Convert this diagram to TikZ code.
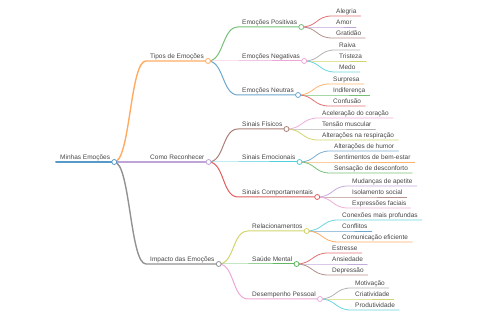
\documentclass[tikz,border=0pt]{standalone}
\usepackage{fontspec}
\setmainfont{Liberation Sans}
\definecolor{cblue}{HTML}{1F77B4}
\definecolor{corange}{HTML}{FF7F0E}
\definecolor{cgreen}{HTML}{2CA02C}
\definecolor{cred}{HTML}{D62728}
\definecolor{cpurple}{HTML}{9467BD}
\definecolor{cbrown}{HTML}{8C564B}
\definecolor{cpink}{HTML}{E377C2}
\definecolor{cgray}{HTML}{7F7F7F}
\definecolor{colive}{HTML}{BCBD22}
\definecolor{ccyan}{HTML}{17BECF}
\definecolor{txtgray}{RGB}{70,70,70}

\begin{document}
\begin{tikzpicture}[x=1pt, y=-1pt,
  topic/.style={anchor=south west, inner xsep=4pt, inner ysep=0.6pt, text height=5pt,
    text depth=1.6pt, text=txtgray, font=\fontsize{6.5}{7.5}\selectfont},
  mmlink/.style={line width=0.8pt, line cap=round},
  mmdot/.style={circle, draw, fill=white, line width=0.8pt, inner sep=0pt, minimum size=5pt}]
  \useasboundingbox (0,0) rectangle (480,320);
  % Root and first level
  \node[topic] (minhas) at (56,162) {Minhas Emoções};
  \node[topic] (tipos) at (146,61) {Tipos de Emoções};
  \node[topic] (como) at (146,162) {Como Reconhecer};
  \node[topic] (impacto) at (146,264) {Impacto das Emoções};
  % Tipos de Emocoes
  \node[topic] (positivas) at (238,27) {Emoções Positivas};
  \node[topic] (negativas) at (238,61) {Emoções Negativas};
  \node[topic] (neutras) at (238,95) {Emoções Neutras};
  \node[topic] (alegria) at (332,16) {Alegria};
  \node[topic] (amor) at (332,27) {Amor};
  \node[topic] (gratidao) at (332,38) {Gratidão};
  \node[topic] (raiva) at (335,50) {Raiva};
  \node[topic] (tristeza) at (335,61) {Tristeza};
  \node[topic] (medo) at (335,72) {Medo};
  \node[topic] (surpresa) at (329,84) {Surpresa};
  \node[topic] (indif) at (329,95) {Indiferença};
  \node[topic] (confusao) at (329,106) {Confusão};
  % Como Reconhecer
  \node[topic] (fisicos) at (238,129) {Sinais Físicos};
  \node[topic] (emocionais) at (238,162) {Sinais Emocionais};
  \node[topic] (comport) at (238,197) {Sinais Comportamentais};
  \node[topic] (acel) at (318,118) {Aceleração do coração};
  \node[topic] (tensao) at (318,129) {Tensão muscular};
  \node[topic] (altresp) at (318,140) {Alterações na respiração};
  \node[topic] (humor) at (330,151) {Alterações de humor};
  \node[topic] (bemestar) at (330,162) {Sentimentos de bem-estar};
  \node[topic] (desconf) at (330,173) {Sensação de desconforto};
  \node[topic] (apetite) at (348,186) {Mudanças de apetite};
  \node[topic] (isol) at (348,197) {Isolamento social};
  \node[topic] (express) at (348,208) {Expressões faciais};
  % Impacto das Emocoes
  \node[topic] (relac) at (248,231) {Relacionamentos};
  \node[topic] (saude) at (248,264) {Saúde Mental};
  \node[topic] (desemp) at (248,299) {Desempenho Pessoal};
  \node[topic] (conexoes) at (338,220) {Conexões mais profundas};
  \node[topic] (conflitos) at (338,231) {Conflitos};
  \node[topic] (comunic) at (338,242) {Comunicação eficiente};
  \node[topic] (estresse) at (328,253) {Estresse};
  \node[topic] (ansiedade) at (328,264) {Ansiedade};
  \node[topic] (depressao) at (328,275) {Depressão};
  \node[topic] (motiv) at (351,288) {Motivação};
  \node[topic] (criat) at (351,299) {Criatividade};
  \node[topic] (produt) at (351,310) {Produtividade};

  % Branches: link from parent dot, then underline
  \draw[mmlink, cblue!75, line width=2pt] (minhas.south west) -- (minhas.south east);
  \draw[mmlink, corange!65, line width=1.4pt] (minhas.south east) .. controls +(16,0) and +(-16,0) .. (tipos.south west) -- (tipos.south east);
  \draw[mmlink, cpurple!60, line width=1.4pt] (minhas.south east) .. controls +(16,0) and +(-16,0) .. (como.south west) -- (como.south east);
  \draw[mmlink, cgray!85, line width=1.4pt] (minhas.south east) .. controls +(16,0) and +(-16,0) .. (impacto.south west) -- (impacto.south east);
  % second level
  \draw[mmlink, cgreen!65, line width=1pt] (tipos.south east) .. controls +(16,0) and +(-16,0) .. (positivas.south west) -- (positivas.south east);
  \draw[mmlink, cpink!65, line width=1pt] (tipos.south east) .. controls +(16,0) and +(-16,0) .. (negativas.south west) -- (negativas.south east);
  \draw[mmlink, cblue!65, line width=1pt] (tipos.south east) .. controls +(16,0) and +(-16,0) .. (neutras.south west) -- (neutras.south east);
  \draw[mmlink, cbrown!75, line width=1pt] (como.south east) .. controls +(16,0) and +(-16,0) .. (fisicos.south west) -- (fisicos.south east);
  \draw[mmlink, ccyan!75, line width=1pt] (como.south east) .. controls +(16,0) and +(-16,0) .. (emocionais.south west) -- (emocionais.south east);
  \draw[mmlink, cred!75, line width=1pt] (como.south east) .. controls +(16,0) and +(-16,0) .. (comport.south west) -- (comport.south east);
  \draw[mmlink, colive!65, line width=1pt] (impacto.south east) .. controls +(16,0) and +(-16,0) .. (relac.south west) -- (relac.south east);
  \draw[mmlink, cgreen!75, line width=1pt] (impacto.south east) .. controls +(16,0) and +(-16,0) .. (saude.south west) -- (saude.south east);
  \draw[mmlink, cpink!65, line width=1pt] (impacto.south east) .. controls +(16,0) and +(-16,0) .. (desemp.south west) -- (desemp.south east);
  % leaves
  \draw[mmlink, cred!65] (positivas.south east) .. controls +(16,0) and +(-16,0) .. (alegria.south west) -- (alegria.south east);
  \draw[mmlink, cpurple!60] (positivas.south east) .. controls +(16,0) and +(-16,0) .. (amor.south west) -- (amor.south east);
  \draw[mmlink, cbrown!65] (positivas.south east) .. controls +(16,0) and +(-16,0) .. (gratidao.south west) -- (gratidao.south east);
  \draw[mmlink, cgray!60] (negativas.south east) .. controls +(16,0) and +(-16,0) .. (raiva.south west) -- (raiva.south east);
  \draw[mmlink, colive!65] (negativas.south east) .. controls +(16,0) and +(-16,0) .. (tristeza.south west) -- (tristeza.south east);
  \draw[mmlink, ccyan!65] (negativas.south east) .. controls +(16,0) and +(-16,0) .. (medo.south west) -- (medo.south east);
  \draw[mmlink, corange!60] (neutras.south east) .. controls +(16,0) and +(-16,0) .. (surpresa.south west) -- (surpresa.south east);
  \draw[mmlink, cgreen!65] (neutras.south east) .. controls +(16,0) and +(-16,0) .. (indif.south west) -- (indif.south east);
  \draw[mmlink, cred!65] (neutras.south east) .. controls +(16,0) and +(-16,0) .. (confusao.south west) -- (confusao.south east);
  \draw[mmlink, cpink!60] (fisicos.south east) .. controls +(16,0) and +(-16,0) .. (acel.south west) -- (acel.south east);
  \draw[mmlink, cgray!60] (fisicos.south east) .. controls +(16,0) and +(-16,0) .. (tensao.south west) -- (tensao.south east);
  \draw[mmlink, colive!65] (fisicos.south east) .. controls +(16,0) and +(-16,0) .. (altresp.south west) -- (altresp.south east);
  \draw[mmlink, cblue!60] (emocionais.south east) .. controls +(16,0) and +(-16,0) .. (humor.south west) -- (humor.south east);
  \draw[mmlink, corange!60] (emocionais.south east) .. controls +(16,0) and +(-16,0) .. (bemestar.south west) -- (bemestar.south east);
  \draw[mmlink, cgreen!65] (emocionais.south east) .. controls +(16,0) and +(-16,0) .. (desconf.south west) -- (desconf.south east);
  \draw[mmlink, cpurple!55] (comport.south east) .. controls +(16,0) and +(-16,0) .. (apetite.south west) -- (apetite.south east);
  \draw[mmlink, cbrown!65] (comport.south east) .. controls +(16,0) and +(-16,0) .. (isol.south west) -- (isol.south east);
  \draw[mmlink, cpink!60] (comport.south east) .. controls +(16,0) and +(-16,0) .. (express.south west) -- (express.south east);
  \draw[mmlink, ccyan!65] (relac.south east) .. controls +(16,0) and +(-16,0) .. (conexoes.south west) -- (conexoes.south east);
  \draw[mmlink, cblue!65] (relac.south east) .. controls +(16,0) and +(-16,0) .. (conflitos.south west) -- (conflitos.south east);
  \draw[mmlink, corange!65] (relac.south east) .. controls +(16,0) and +(-16,0) .. (comunic.south west) -- (comunic.south east);
  \draw[mmlink, cred!65] (saude.south east) .. controls +(16,0) and +(-16,0) .. (estresse.south west) -- (estresse.south east);
  \draw[mmlink, cpurple!55] (saude.south east) .. controls +(16,0) and +(-16,0) .. (ansiedade.south west) -- (ansiedade.south east);
  \draw[mmlink, cbrown!65] (saude.south east) .. controls +(16,0) and +(-16,0) .. (depressao.south west) -- (depressao.south east);
  \draw[mmlink, cgray!60] (desemp.south east) .. controls +(16,0) and +(-16,0) .. (motiv.south west) -- (motiv.south east);
  \draw[mmlink, colive!65] (desemp.south east) .. controls +(16,0) and +(-16,0) .. (criat.south west) -- (criat.south east);
  \draw[mmlink, ccyan!65] (desemp.south east) .. controls +(16,0) and +(-16,0) .. (produt.south west) -- (produt.south east);

  % Fold dots on inner nodes
  \node[mmdot, draw=cblue!75] (minhas-o) at (minhas.south east) {};
  \node[mmdot, draw=corange!65] (tipos-o) at (tipos.south east) {};
  \node[mmdot, draw=cpurple!60] (como-o) at (como.south east) {};
  \node[mmdot, draw=cgray!85] (impacto-o) at (impacto.south east) {};
  \node[mmdot, draw=cgreen!65] (positivas-o) at (positivas.south east) {};
  \node[mmdot, draw=cpink!65] (negativas-o) at (negativas.south east) {};
  \node[mmdot, draw=cblue!65] (neutras-o) at (neutras.south east) {};
  \node[mmdot, draw=cbrown!75] (fisicos-o) at (fisicos.south east) {};
  \node[mmdot, draw=ccyan!75] (emocionais-o) at (emocionais.south east) {};
  \node[mmdot, draw=cred!75] (comport-o) at (comport.south east) {};
  \node[mmdot, draw=colive!65] (relac-o) at (relac.south east) {};
  \node[mmdot, draw=cgreen!75] (saude-o) at (saude.south east) {};
  \node[mmdot, draw=cpink!65] (desemp-o) at (desemp.south east) {};
\end{tikzpicture}
\end{document}
